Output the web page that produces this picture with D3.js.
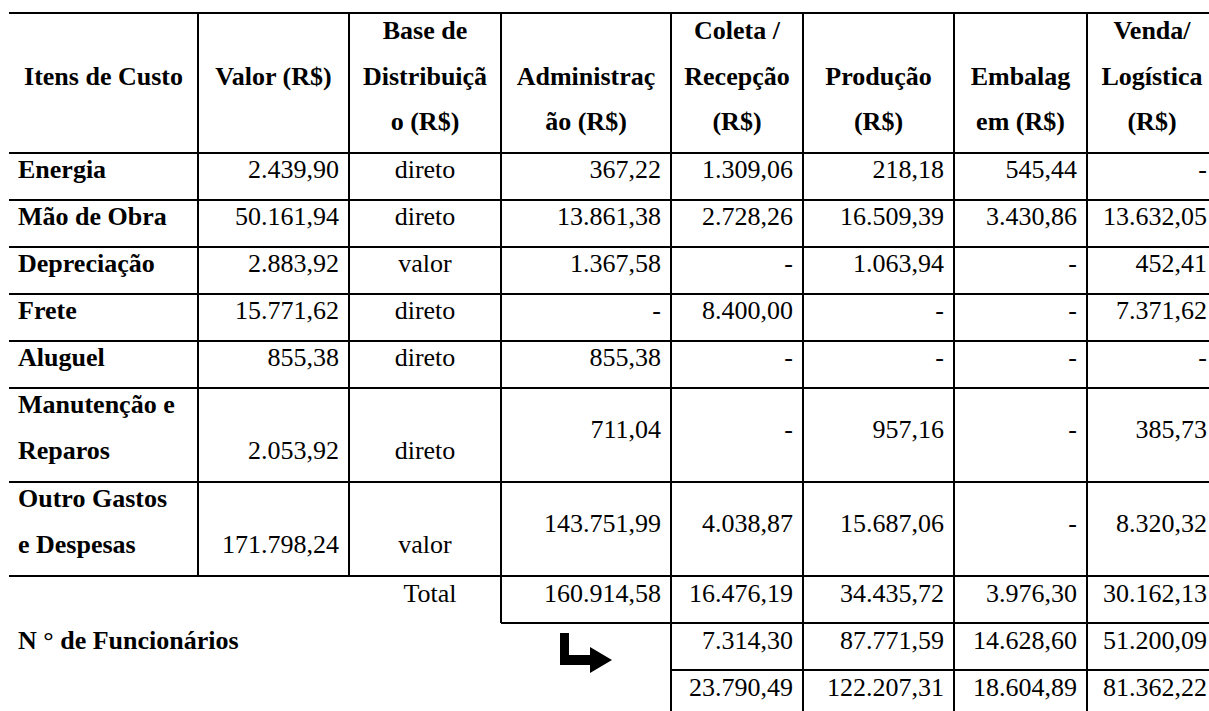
<!DOCTYPE html>
<html>
<head>
<meta charset="utf-8">
<script src="https://cdn.jsdelivr.net/npm/d3@7"></script>
<style>
  body { margin: 0; background: #fff; }
  svg { display: block; }
  text { font-family: "Liberation Serif", "Times New Roman", serif; font-size: 26px; fill: #000; }
</style>
</head>
<body>
<div id="chart"></div>
<script>
// Table data
var colunas = ["itens", "valor", "base", "adm", "coleta", "producao", "embalagem", "venda"];
var cabecalhos = [
  ["", "Itens de Custo", ""],
  ["", "Valor (R$)", ""],
  ["Base de", "Distribuiçã", "o (R$)"],
  ["", "Administraç", "ão (R$)"],
  ["Coleta /", "Recepção", "(R$)"],
  ["", "Produção", "(R$)"],
  ["", "Embalag", "em (R$)"],
  ["Venda/", "Logística", "(R$)"]
];
var itens = ["Energia", "Mão de Obra", "Depreciação", "Frete", "Aluguel", "Manutenção e\nReparos", "Outro Gastos\ne Despesas"];
var valor = [2439.90, 50161.94, 2883.92, 15771.62, 855.38, 2053.92, 171798.24];
var base = ["direto", "direto", "valor", "direto", "direto", "direto", "valor"];
var administracao = [367.22, 13861.38, 1367.58, null, 855.38, 711.04, 143751.99];
var coleta = [1309.06, 2728.26, null, 8400.00, null, null, 4038.87];
var producao = [218.18, 16509.39, 1063.94, null, null, 957.16, 15687.06];
var embalagem = [545.44, 3430.86, null, null, null, null, null];
var venda = [null, 13632.05, 452.41, 7371.62, null, 385.73, 8320.32];
var totais = [160914.58, 16476.19, 34435.72, 3976.30, 30162.13];        // adm..venda
var funcionarios = [7314.30, 87771.59, 14628.60, 51200.09];            // coleta..venda
var finais = [23790.49, 122207.31, 18604.89, 81362.22];                 // coleta..venda

var width = 1209, height = 711;
var ptBR = d3.formatLocale({ decimal: ",", thousands: ".", grouping: [3], currency: ["R$", ""] });
var fmt = ptBR.format(",.2f");
function show(v) { return v == null ? "-" : fmt(v); }

// Column layout
var bordas = [9, 198, 349, 501, 671, 803, 954, 1087, 1217];
var xLeft = d3.scaleOrdinal(colunas, bordas.slice(0, -1));
var xRight = d3.scaleOrdinal(colunas, bordas.slice(1));
function xMid(c) { return (xLeft(c) + xRight(c)) / 2; }

// Row layout
var unit = 47, tableTop = 13, headerH = 140;
var linhas = itens.map(function(d) { return d.split("\n").length; });
var rowTop = [];
var acc = tableTop + headerH;
linhas.forEach(function(n) { rowTop.push(acc); acc += n * unit; });
var yRow = d3.scaleOrdinal(itens, rowTop);
var yTotal = acc, yFunc = acc + unit, yFinal = acc + 2 * unit;

var svg = d3.select("#chart").append("svg").attr("width", width).attr("height", height);
var gLines = svg.append("g").attr("stroke", "#000").attr("stroke-width", 2);
var gText = svg.append("g");

// Header
var headerBase = [39, 85, 130];
cabecalhos.forEach(function(h, i) {
  h.forEach(function(t, j) {
    if (!t) return;
    gText.append("text")
      .attr("x", xMid(colunas[i])).attr("y", headerBase[j])
      .attr("text-anchor", "middle").attr("font-weight", "bold").text(t);
  });
});

// Body rows
var numCols = [["adm", administracao], ["coleta", coleta], ["producao", producao], ["embalagem", embalagem], ["venda", venda]];
itens.forEach(function(item, i) {
  var y0 = yRow(item), n = linhas[i];
  var lastBase = y0 + 25 + (n - 1) * 46;
  item.split("\n").forEach(function(t, j) {
    gText.append("text").attr("x", xLeft("itens") + 9).attr("y", y0 + 25 + j * 46)
      .attr("font-weight", "bold").text(t);
  });
  gText.append("text").attr("x", xRight("valor") - 10).attr("y", lastBase)
    .attr("text-anchor", "end").text(show(valor[i]));
  gText.append("text").attr("x", xMid("base")).attr("y", lastBase)
    .attr("text-anchor", "middle").text(base[i]);
  var midBase = y0 + n * unit / 2 + (n > 1 ? 3 : 1.5);
  numCols.forEach(function(c) {
    gText.append("text").attr("x", xRight(c[0]) - 10).attr("y", midBase)
      .attr("text-anchor", "end").text(show(c[1][i]));
  });
});

// Totals
gText.append("text").attr("x", xMid("base") + 5).attr("y", yTotal + 26)
  .attr("text-anchor", "middle").text("Total");
["adm", "coleta", "producao", "embalagem", "venda"].forEach(function(c, i) {
  gText.append("text").attr("x", xRight(c) - 10).attr("y", yTotal + 26)
    .attr("text-anchor", "end").text(show(totais[i]));
});
gText.append("text").attr("x", xLeft("itens") + 9).attr("y", yFunc + 26)
  .attr("font-weight", "bold").text("N ° de Funcionários");
["coleta", "producao", "embalagem", "venda"].forEach(function(c, i) {
  gText.append("text").attr("x", xRight(c) - 10).attr("y", yFunc + 26)
    .attr("text-anchor", "end").text(show(funcionarios[i]));
  gText.append("text").attr("x", xRight(c) - 10).attr("y", yFinal + 26)
    .attr("text-anchor", "end").text(show(finais[i]));
});

// Arrow (bent)
var ax = xLeft("adm") + 59, ay = yFunc + 10;
svg.append("path")
  .attr("fill", "#000")
  .attr("d", "M" + ax + "," + ay + " h9 v22 h21 v-8 l22,13 l-22,13 v-8 h-30 z");

// Horizontal rules
var right = bordas[bordas.length - 1];
var hLines = [[tableTop, bordas[0], right]];
rowTop.concat([yTotal]).forEach(function(y) { hLines.push([y, bordas[0], right]); });
hLines.push([yFunc, xLeft("adm"), right]);
hLines.push([yFinal, xLeft("coleta"), right]);
gLines.selectAll("line.h").data(hLines).enter().append("line").attr("class", "h")
  .attr("x1", function(d) { return d[1]; }).attr("x2", function(d) { return d[2]; })
  .attr("y1", function(d) { return d[0]; }).attr("y2", function(d) { return d[0]; });

// Vertical rules
var vLines = [
  [xLeft("valor"), tableTop, yTotal],
  [xLeft("base"), tableTop, yTotal],
  [xLeft("adm"), tableTop, yFunc],
  [xLeft("coleta"), tableTop, yFinal + unit],
  [xLeft("producao"), tableTop, yFinal + unit],
  [xLeft("embalagem"), tableTop, yFinal + unit],
  [xLeft("venda"), tableTop, yFinal + unit],
  [right, tableTop, yFinal + unit]
];
gLines.selectAll("line.v").data(vLines).enter().append("line").attr("class", "v")
  .attr("x1", function(d) { return d[0]; }).attr("x2", function(d) { return d[0]; })
  .attr("y1", function(d) { return d[1]; }).attr("y2", function(d) { return d[2]; });
</script>
</body>
</html>
